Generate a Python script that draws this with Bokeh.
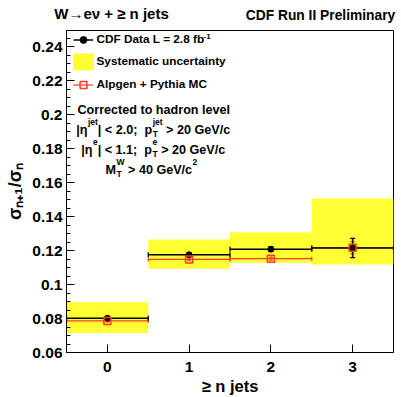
import numpy as np
from bokeh.plotting import figure
from bokeh.models import (ColumnDataSource, Range1d, FixedTicker, Label, Legend, LegendItem, LinearAxis)
from bokeh.embed import file_html
from bokeh.resources import INLINE

# ---------------- data ----------------
n_jets = [0, 1, 2, 3]
data_ratio = [0.0802, 0.1175, 0.1208, 0.1215]
data_err = [0.0008, 0.0010, 0.0013, 0.0057]
syst_low = [0.0715, 0.1093, 0.1128, 0.1118]
syst_high = [0.0895, 0.1265, 0.1308, 0.1506]
mc_ratio = [0.0786, 0.1148, 0.1152, 0.1217]
mc_err = [0.0006, 0.0008, 0.0009, 0.0036]

x_ticks = [0, 1, 2, 3]
x_tick_labels = ["0", "1", "2", "3"]
y_ticks = [0.06, 0.08, 0.10, 0.12, 0.14, 0.16, 0.18, 0.20, 0.22, 0.24]
y_tick_labels = ["0.06", "0.08", "0.1", "0.12", "0.14", "0.16", "0.18", "0.2", "0.22", "0.24"]

title_text = "W\u2192e\u03bd + \u2265 n jets"
prelim_text = "CDF Run II Preliminary"
x_label = "\u2265 n jets"
y_label = "\u03c3\u2099\u208a\u2081/\u03c3\u2099"
leg_data = "CDF Data L = 2.8 fb"
leg_syst = "Systematic uncertainty"
leg_mc = "Alpgen + Pythia MC"

# ---------------- layout constants ----------------
W, H = 401, 397
FL, FR, FT, FB = 66, 393, 30, 353
FONT = "Liberation Sans"
YELLOW = "#ffff33"
RED = "#ff3a2a"
X0, X1 = -0.5, 3.5

p = figure(width=W, height=H, output_backend="svg", toolbar_location=None,
           x_range=Range1d(X0, X1), y_range=Range1d(0.06, 0.2495),
           min_border_left=FL, min_border_right=W - FR,
           min_border_top=FT, min_border_bottom=H - FB, title=None)
p.xgrid.visible = False
p.ygrid.visible = False
p.outline_line_color = "black"
p.outline_line_width = 1
p.background_fill_color = "white"
p.border_fill_color = "white"

# axes
for ax in (p.xaxis[0], p.yaxis[0]):
    ax.axis_line_color = "black"
    ax.major_tick_line_color = "black"
    ax.minor_tick_line_color = "black"
    ax.major_tick_in = 8
    ax.major_tick_out = 0
    ax.minor_tick_in = 4
    ax.minor_tick_out = 0
    ax.major_label_text_font = FONT
    ax.major_label_text_font_style = "bold"
    ax.major_label_text_font_size = "15.5px"
    ax.major_label_text_color = "black"
    ax.axis_label_text_font = FONT
    ax.axis_label_text_font_style = "bold"
    ax.axis_label_text_color = "black"

p.yaxis[0].major_label_standoff = 4
p.yaxis[0].ticker = FixedTicker(ticks=y_ticks,
                                minor_ticks=[round(v, 3) for v in np.arange(0.06, 0.2496, 0.005)])
p.yaxis[0].major_label_overrides = dict(zip(y_ticks, y_tick_labels))
p.yaxis[0].axis_label = y_label
p.yaxis[0].axis_label_text_font_size = "18px"
p.yaxis[0].axis_label_standoff = 4

p.xaxis[0].major_label_standoff = 9
p.xaxis[0].ticker = FixedTicker(ticks=x_ticks, minor_ticks=[])
p.xaxis[0].major_label_overrides = dict(zip(x_ticks, x_tick_labels))
p.xaxis[0].axis_label = x_label
p.xaxis[0].axis_label_text_font_size = "16.5px"
p.xaxis[0].axis_label_standoff = 2


# ---------------- titles as label carriers of axes above ----------------
def to_data_x(cx):
    return X0 + (cx - FL) * (X1 - X0) / (FR - FL)


def text_axis(cx, text, size, standoff):
    t = round(to_data_x(cx), 4)
    ax = LinearAxis(ticker=FixedTicker(ticks=[t], minor_ticks=[]),
                    major_label_overrides={t: text},
                    axis_line_color=None, major_tick_line_color=None, minor_tick_line_color=None,
                    major_tick_in=0, major_tick_out=0, minor_tick_in=0, minor_tick_out=0,
                    major_label_standoff=standoff,
                    major_label_text_font=FONT, major_label_text_font_style="bold",
                    major_label_text_font_size=f"{size}px", major_label_text_color="black")
    p.add_layout(ax, "above")


text_axis(320, prelim_text, 13.8, 8)      # inner (closest to frame)
text_axis(111, title_text, 15, -17)       # outer

# ---------------- glyphs ----------------
nj = np.array(n_jets, dtype=float)
src = ColumnDataSource(dict(
    n=nj, lo=nj - 0.5, hi=nj + 0.5,
    d=data_ratio, d_lo=np.array(data_ratio) - np.array(data_err), d_hi=np.array(data_ratio) + np.array(data_err),
    m=mc_ratio, m_lo=np.array(mc_ratio) - np.array(mc_err), m_hi=np.array(mc_ratio) + np.array(mc_err),
    s_lo=syst_low, s_hi=syst_high,
))

r_syst = p.quad(left="lo", right="hi", bottom="s_lo", top="s_hi", source=src,
                fill_color=YELLOW, line_color=None)

# MC
r_mc_line = p.segment(x0="lo", y0="m", x1="hi", y1="m", source=src, line_color=RED, line_width=1.2)
p.segment(x0="n", y0="m_lo", x1="n", y1="m_hi", source=src, line_color=RED, line_width=1.2)
p.scatter(x="lo", y="m", source=src, marker="dash", angle=np.pi / 2, size=4, line_color=RED, line_width=1.2)
p.scatter(x="hi", y="m", source=src, marker="dash", angle=np.pi / 2, size=4, line_color=RED, line_width=1.2)
p.scatter(x="n", y="m_lo", source=src, marker="dash", size=4, line_color=RED, line_width=1.2)
p.scatter(x="n", y="m_hi", source=src, marker="dash", size=4, line_color=RED, line_width=1.2)

# Data
r_d_line = p.segment(x0="lo", y0="d", x1="hi", y1="d", source=src, line_color="black", line_width=1.5)
p.segment(x0="n", y0="d_lo", x1="n", y1="d_hi", source=src, line_color="black", line_width=1.5)
p.scatter(x="lo", y="d", source=src, marker="dash", angle=np.pi / 2, size=5, line_color="black", line_width=1.3)
p.scatter(x="hi", y="d", source=src, marker="dash", angle=np.pi / 2, size=5, line_color="black", line_width=1.3)
p.scatter(x="n", y="d_lo", source=src, marker="dash", size=5, line_color="black", line_width=1.3)
p.scatter(x="n", y="d_hi", source=src, marker="dash", size=5, line_color="black", line_width=1.3)
r_d_pt = p.scatter(x="n", y="d", source=src, marker="circle", size=6, fill_color="black", line_color="black")

r_mc_pt = p.scatter(x="n", y="m", source=src, marker="square", size=7, fill_color=None,
                    line_color=RED, line_width=1.5)


# ---------------- legends (one per row) ----------------
def fx(xc):
    return xc - FL


def fy(yc):
    return FB - yc


def make_legend(label, renderers, left, top, gw, gh, standoff):
    leg = Legend(items=[LegendItem(label=label, renderers=renderers)],
                 location=(fx(left), fy(top + gh)),
                 glyph_width=gw, glyph_height=gh, label_height=gh, label_standoff=standoff,
                 padding=0, spacing=0, margin=0,
                 border_line_alpha=0, background_fill_alpha=0,
                 label_text_font=FONT, label_text_font_style="bold",
                 label_text_font_size="11.8px", label_text_color="black")
    p.add_layout(leg)


make_legend(leg_data, [r_d_line, r_d_pt], 72.5, 31.5, 20, 17, 4)
make_legend(leg_syst, [r_syst], 69.5, 51.5, 26, 21, 1)
make_legend(leg_mc, [r_mc_line, r_mc_pt], 72.5, 76.5, 20, 17, 4)

# ---------------- text helpers ----------------
WID = {' ': 278, '|': 280, '<': 584, '>': 584, '=': 584, '+': 584, '-': 333, '.': 278, ',': 278,
       ';': 333, ':': 333, '/': 278, '\u03b7': 611, '\u03bd': 556, '\u03c3': 611, '\u2265': 549,
       '\u2192': 1000}
for ch in "0123456789":
    WID[ch] = 556
for ch, w in zip("ABCDEFGHIJKLMNOPQRSTUVWXYZ",
                 [722, 722, 722, 722, 667, 611, 778, 722, 278, 556, 722, 611, 833, 722, 778, 667,
                  778, 722, 667, 611, 722, 667, 944, 667, 667, 611]):
    WID[ch] = w
for ch, w in zip("abcdefghijklmnopqrstuvwxyz",
                 [556, 611, 556, 611, 556, 333, 611, 611, 278, 278, 556, 278, 889, 611, 611, 611,
                  611, 389, 556, 333, 611, 556, 778, 556, 556, 500]):
    WID[ch] = w


def tw(s, size):
    return sum(WID.get(c, 556) for c in s) * size / 1000.0


def put(xc, yc, text, size, align="left"):
    lead = len(text) - len(text.lstrip(" "))
    xc += tw(" " * lead, size)
    p.add_layout(Label(x=fx(xc), y=fy(yc), x_units="screen", y_units="screen",
                       text=text.strip(), text_font=FONT, text_font_style="bold",
                       text_font_size=f"{size}px", text_color="black",
                       text_align=align, text_baseline="alphabetic"))


def rich(xc, yc, tokens, size=12.6, small=8.5, up=8.0, down=4.0):
    for tok in tokens:
        kind = tok[0]
        if kind == "n":
            put(xc, yc, tok[1], size)
            xc += tw(tok[1], size)
        elif kind == "sup":
            put(xc + 0.5, yc - up, tok[1], small)
            xc += tw(tok[1], small) + 0.5
        elif kind == "ss":
            put(xc + 0.5, yc + down, tok[1], small)
            put(xc + 0.5, yc - up, tok[2], small)
            xc += max(tw(tok[1], small), tw(tok[2], small)) + 0.5


# legend superscript
put(203, 37, "-1", 8)

# text block
put(77, 110, "Corrected to hadron level", 12.6)
rich(75.7, 130.5, [("n", "|\u03b7"), ("sup", "jet"), ("n", "| < 2.0;  "), ("n", "p"),
                   ("ss", "T", "jet"), ("n", " > 20 GeV/c")])
rich(80.7, 150, [("n", "|\u03b7"), ("sup", "e"), ("n", "| < 1.1;  "), ("n", "p"),
                 ("ss", "T", "e"), ("n", " > 20 GeV/c")])
rich(105, 170, [("n", "M"), ("ss", "T", "W"), ("n", " > 40 GeV/c"), ("sup", "2")])

open("out.html", "w").write(file_html(p, INLINE))
